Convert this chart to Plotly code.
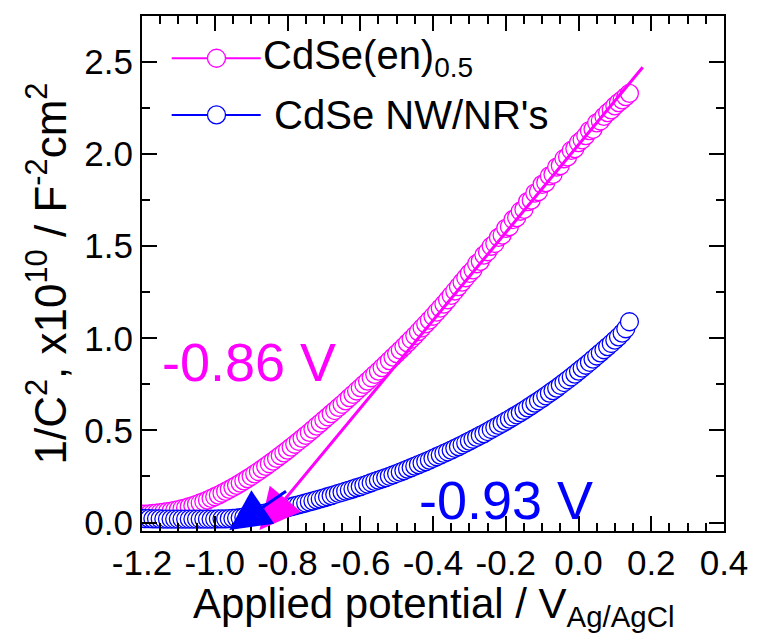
import plotly.graph_objects as go

# ---------------- data ----------------
potential = [
    -1.20, -1.19, -1.18, -1.17, -1.16, -1.15, -1.14, -1.13, -1.12, -1.11,
    -1.10, -1.09, -1.08, -1.07, -1.06, -1.05, -1.04, -1.03, -1.02, -1.01,
    -1.00, -0.99, -0.98, -0.97, -0.96, -0.95, -0.94, -0.93, -0.92, -0.91,
    -0.90, -0.89, -0.88, -0.87, -0.86, -0.85, -0.84, -0.83, -0.82, -0.81,
    -0.80, -0.79, -0.78, -0.77, -0.76, -0.75, -0.74, -0.73, -0.72, -0.71,
    -0.70, -0.69, -0.68, -0.67, -0.66, -0.65, -0.64, -0.63, -0.62, -0.61,
    -0.60, -0.59, -0.58, -0.57, -0.56, -0.55, -0.54, -0.53, -0.52, -0.51,
    -0.50, -0.49, -0.48, -0.47, -0.46, -0.45, -0.44, -0.43, -0.42, -0.41,
    -0.40, -0.39, -0.38, -0.37, -0.36, -0.35, -0.34, -0.33, -0.32, -0.31,
    -0.30, -0.29, -0.28, -0.27, -0.26, -0.25, -0.24, -0.23, -0.22, -0.21,
    -0.20, -0.19, -0.18, -0.17, -0.16, -0.15, -0.14, -0.13, -0.12, -0.11,
    -0.10, -0.09, -0.08, -0.07, -0.06, -0.05, -0.04, -0.03, -0.02, -0.01,
    0.00, 0.01, 0.02, 0.03, 0.04, 0.05, 0.06, 0.07, 0.08, 0.09,
    0.10, 0.11, 0.12, 0.13, 0.14,
]

cdse_en = [
    0.045, 0.046, 0.047, 0.049, 0.051, 0.053, 0.056, 0.059, 0.062, 0.066,
    0.070, 0.075, 0.080, 0.086, 0.092, 0.099, 0.106, 0.114, 0.122, 0.131,
    0.140, 0.149, 0.159, 0.169, 0.180, 0.191, 0.202, 0.214, 0.226, 0.238,
    0.251, 0.264, 0.277, 0.291, 0.305, 0.319, 0.333, 0.348, 0.363, 0.378,
    0.393, 0.409, 0.425, 0.441, 0.457, 0.473, 0.489, 0.506, 0.523, 0.540,
    0.557, 0.574, 0.591, 0.608, 0.625, 0.642, 0.660, 0.678, 0.696, 0.714,
    0.732, 0.750, 0.768, 0.786, 0.804, 0.822, 0.841, 0.860, 0.879, 0.898,
    0.917, 0.936, 0.955, 0.975, 0.995, 1.015, 1.036, 1.057, 1.078, 1.099,
    1.120, 1.142, 1.164, 1.186, 1.209, 1.233, 1.257, 1.281, 1.305, 1.329,
    1.353, 1.372, 1.405, 1.418, 1.452, 1.470, 1.500, 1.515, 1.548, 1.560,
    1.597, 1.606, 1.645, 1.655, 1.690, 1.700, 1.742, 1.750, 1.788, 1.796,
    1.836, 1.845, 1.882, 1.890, 1.930, 1.938, 1.975, 1.985, 2.020, 2.030,
    2.062, 2.078, 2.100, 2.128, 2.135, 2.170, 2.180, 2.205, 2.225, 2.240,
    2.262, 2.280, 2.295, 2.312, 2.330,
]

cdse_nw = [
    0.022, 0.021, 0.021, 0.020, 0.020, 0.020, 0.019, 0.019, 0.019, 0.019,
    0.019, 0.019, 0.019, 0.019, 0.019, 0.019, 0.019, 0.019, 0.019, 0.019,
    0.019, 0.020, 0.020, 0.020, 0.021, 0.022, 0.024, 0.026, 0.029, 0.032,
    0.036, 0.040, 0.044, 0.048, 0.052, 0.056, 0.061, 0.066, 0.071, 0.076,
    0.081, 0.086, 0.091, 0.096, 0.101, 0.106, 0.112, 0.117, 0.123, 0.128,
    0.134, 0.140, 0.146, 0.152, 0.158, 0.164, 0.170, 0.176, 0.182, 0.189,
    0.195, 0.202, 0.209, 0.216, 0.223, 0.230, 0.237, 0.244, 0.251, 0.259,
    0.266, 0.274, 0.282, 0.290, 0.298, 0.306, 0.314, 0.322, 0.331, 0.339,
    0.348, 0.357, 0.366, 0.375, 0.384, 0.393, 0.403, 0.412, 0.422, 0.432,
    0.442, 0.452, 0.462, 0.473, 0.483, 0.494, 0.505, 0.516, 0.527, 0.538,
    0.550, 0.561, 0.573, 0.585, 0.597, 0.609, 0.622, 0.635, 0.648, 0.661,
    0.674, 0.688, 0.702, 0.716, 0.730, 0.745, 0.760, 0.775, 0.790, 0.806,
    0.822, 0.838, 0.854, 0.870, 0.887, 0.904, 0.921, 0.938, 0.955, 0.972,
    0.990, 1.008, 1.028, 1.052, 1.090,
]

assert len(potential) == len(cdse_en) == len(cdse_nw), (len(potential), len(cdse_en), len(cdse_nw))

# linear-fit arrows: tail (x0, y0) -> head (x1, y1); heads end on the bottom axis
fit_en = {"x0": 0.18, "y0": 2.48, "x1": -0.877, "y1": -0.04, "label": "-0.86 V"}
fit_nw = {"x0": -0.80, "y0": 0.175, "x1": -0.96, "y1": -0.04, "label": "-0.93 V"}

series_names = ["CdSe(en)<sub>0.5</sub>", " CdSe NW/NR's"]

x_ticks = [-1.2, -1.0, -0.8, -0.6, -0.4, -0.2, 0.0, 0.2, 0.4]
x_ticktext = ["-1.2", "-1.0", "-0.8", "-0.6", "-0.4", "-0.2", "0.0", "0.2", "0.4"]
y_ticks = [0.0, 0.5, 1.0, 1.5, 2.0, 2.5]
y_ticktext = ["0.0", "0.5", "1.0", "1.5", "2.0", "2.5"]

MAGENTA = "#ff00ff"
BLUE = "#0000ff"
FONT = "Liberation Sans, Arial, sans-serif"
X_RANGE = [-1.2, 0.4]
Y_RANGE = [-0.046, 2.75]

fig = go.Figure()
fig.add_trace(go.Scatter(
    x=potential, y=cdse_en, mode="lines+markers",
    line=dict(color=MAGENTA, width=1.2),
    marker=dict(symbol="circle", size=18, color="white",
                line=dict(color=MAGENTA, width=1.3)),
    name=series_names[0], showlegend=False, cliponaxis=True,
))
fig.add_trace(go.Scatter(
    x=potential, y=cdse_nw, mode="lines+markers",
    line=dict(color=BLUE, width=1.2),
    marker=dict(symbol="circle", size=18, color="white",
                line=dict(color=BLUE, width=1.3)),
    name=series_names[1], showlegend=False, cliponaxis=True,
))
# empty trace that carries the mirrored (top / right) tick axes
fig.add_trace(go.Scatter(x=[], y=[], xaxis="x2", yaxis="y2",
                         showlegend=False, hoverinfo="skip"))

# fit arrows
for fit, col in ((fit_en, MAGENTA), (fit_nw, BLUE)):
    fig.add_annotation(
        x=fit["x1"], y=fit["y1"], ax=fit["x0"], ay=fit["y0"],
        xref="x", yref="y", axref="x", ayref="y",
        text="", showarrow=True, arrowhead=2, arrowsize=2.7,
        arrowwidth=3, arrowcolor=col, standoff=0, startstandoff=0,
    )

# intercept labels
fig.add_annotation(x=-0.905, y=0.87, xref="x", yref="y", text=fit_en["label"],
                   showarrow=False, font=dict(family=FONT, size=54, color=MAGENTA))
fig.add_annotation(x=-0.20, y=0.125, xref="x", yref="y", text=fit_nw["label"],
                   showarrow=False, font=dict(family=FONT, size=54, color=BLUE))

# hand-made legend (long line samples like the original)
legend_rows = [(0.918, MAGENTA, series_names[0]), (0.808, BLUE, series_names[1])]
for ypos, col, name in legend_rows:
    fig.add_shape(type="line", xref="paper", yref="paper",
                  x0=0.051, x1=0.204, y0=ypos, y1=ypos,
                  line=dict(color=col, width=2))
    fig.add_shape(type="circle", xref="paper", yref="paper",
                  xsizemode="pixel", ysizemode="pixel",
                  xanchor=0.128, yanchor=ypos, x0=-9, x1=9, y0=-9, y1=9,
                  fillcolor="white", line=dict(color=col, width=1.3))
    fig.add_annotation(x=0.204, y=ypos, xref="paper", yref="paper",
                       xanchor="left", yanchor="middle", text=name,
                       showarrow=False, font=dict(family=FONT, size=40, color="black"))

# x-axis title placed as an annotation so it can sit close to the tick labels
fig.add_annotation(x=0.5, y=-0.092, xref="paper", yref="paper",
                   xanchor="center", yanchor="top",
                   text="Applied potential / V<sub>Ag/AgCl</sub>", showarrow=False,
                   font=dict(family=FONT, size=42, color="black"))

x_minor = [round(-1.2 + 0.05 * i, 2) for i in range(33)]
y_minor = [round(0.25 * i, 2) for i in range(12)]

tick_common = dict(
    ticks="inside", ticklen=15, tickwidth=2, tickcolor="black",
    showgrid=False, zeroline=False,
    tickfont=dict(family=FONT, size=35, color="black"),
)
x_minor_d = dict(tickmode="array", tickvals=x_minor, ticks="inside", ticklen=8,
                 tickwidth=2, tickcolor="black", showgrid=False)
y_minor_d = dict(tickmode="array", tickvals=y_minor, ticks="inside", ticklen=8,
                 tickwidth=2, tickcolor="black", showgrid=False)

fig.update_layout(
    xaxis=dict(
        range=X_RANGE, tickmode="array", tickvals=x_ticks, ticktext=x_ticktext,
        showline=True, linecolor="black", linewidth=2, mirror=True,
        minor=x_minor_d, **tick_common,
    ),
    yaxis=dict(
        range=Y_RANGE, tickmode="array", tickvals=y_ticks, ticktext=y_ticktext,
        showline=True, linecolor="black", linewidth=2, mirror=True,
        minor=y_minor_d,
        title=dict(text="1/C<sup>2</sup>, x10<sup>10</sup> / F<sup>-2</sup>cm<sup>2</sup>",
                   font=dict(family=FONT, size=44, color="black"), standoff=4),
        **tick_common,
    ),
    xaxis2=dict(
        range=X_RANGE, overlaying="x", side="top", anchor="y2",
        tickmode="array", tickvals=x_ticks, showticklabels=False,
        showline=False, minor=x_minor_d, **tick_common,
    ),
    yaxis2=dict(
        range=Y_RANGE, overlaying="y", side="right", anchor="x2",
        tickmode="array", tickvals=y_ticks, showticklabels=False,
        showline=False, minor=y_minor_d, **tick_common,
    ),
    width=760, height=639,
    margin=dict(l=142, r=30, t=16, b=108),
    paper_bgcolor="white", plot_bgcolor="white",
    showlegend=False,
    font=dict(family=FONT, color="black"),
)

fig.write_html("out.html")
